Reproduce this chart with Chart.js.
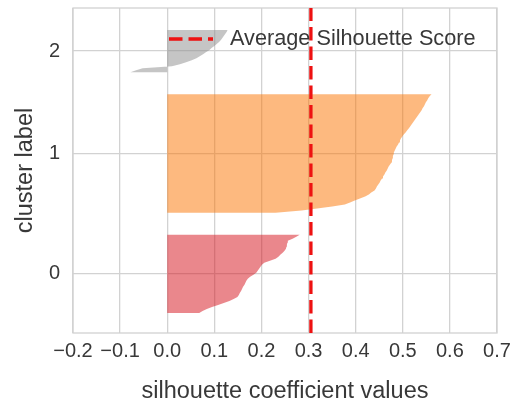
<!DOCTYPE html>
<html>
<head>
<meta charset="utf-8">
<script src="https://cdn.jsdelivr.net/npm/chart.js@4/dist/chart.umd.min.js"></script>
<style>
  html, body { margin: 0; padding: 0; background: #ffffff; }
  #wrap { width: 514px; height: 403px; }
</style>
</head>
<body>
<div id="wrap"><canvas id="chart" width="514" height="403"></canvas></div>
<script>
// Silhouette coefficients per cluster, sorted ascending (bottom to top of each band)
const clusterLabels = ['0', '1', '2'];

const silhouette0 = [
  0.068, 0.075, 0.084, 0.095, 0.108, 0.120, 0.132, 0.141, 0.149, 0.152,
  0.154, 0.157, 0.159, 0.161, 0.164, 0.166, 0.168, 0.171, 0.176, 0.183,
  0.189, 0.192, 0.195, 0.198, 0.201, 0.206, 0.218, 0.230, 0.236, 0.240,
  0.245, 0.249, 0.252, 0.253, 0.254, 0.255, 0.256, 0.266, 0.274, 0.281
];

const silhouette1 = [
  0.230, 0.285, 0.318, 0.350, 0.377, 0.388, 0.398, 0.409, 0.420, 0.428,
  0.433, 0.440, 0.443, 0.445, 0.448, 0.451, 0.453, 0.456, 0.458, 0.461,
  0.463, 0.466, 0.468, 0.470, 0.473, 0.476, 0.477, 0.478, 0.479, 0.480,
  0.481, 0.483, 0.485, 0.487, 0.490, 0.492, 0.494, 0.496, 0.499, 0.502,
  0.506, 0.509, 0.513, 0.516, 0.519, 0.522, 0.525, 0.528, 0.531, 0.534,
  0.537, 0.540, 0.542, 0.545, 0.547, 0.549, 0.552, 0.554, 0.557, 0.561
];

const silhouette2 = [
  -0.078, -0.066, -0.052, 0.010, 0.027, 0.040, 0.052, 0.062, 0.069, 0.076,
  0.082, 0.089, 0.094, 0.100, 0.105, 0.110, 0.114, 0.117, 0.120, 0.123,
  0.126, 0.128
];

const averageScore = 0.305;
const xTickValues = [-0.2, -0.1, 0.0, 0.1, 0.2, 0.3, 0.4, 0.5, 0.6, 0.7];

// Styling
const clusterFills = ['rgba(214,16,26,0.5)', 'rgba(251,115,0,0.5)', 'rgba(140,140,140,0.5)'];
const gridColor = '#d2d2d2';
const textColor = '#383838';
const fontFamily = '"Liberation Sans", Arial, Helvetica, sans-serif';
const bandGap = 10;

// Stack the bands vertically, leaving a gap between clusters
const clusterValues = [silhouette0, silhouette1, silhouette2];
const bandCenters = [];
const bandDatasets = [];
let yLower = bandGap;
clusterValues.forEach((vals, c) => {
  const yTop = yLower + vals.length - 1;
  const pts = [{ x: 0, y: yLower }];
  vals.forEach((v, i) => pts.push({ x: v, y: yLower + i }));
  pts.push({ x: 0, y: yTop });
  bandCenters.push((yLower + yTop) / 2);
  bandDatasets.push({
    label: 'cluster ' + clusterLabels[c],
    data: pts,
    showLine: true,
    fill: 'shape',
    backgroundColor: clusterFills[c],
    borderWidth: 0,
    borderColor: 'rgba(0,0,0,0)',
    pointRadius: 0,
    tension: 0,
    order: 2
  });
  yLower += vals.length + bandGap;
});
const sampleCount = clusterValues.reduce((s, v) => s + v.length, 0);
const yMax = sampleCount + (clusterValues.length + 1) * bandGap;

const averageDataset = {
  label: 'Average Silhouette Score',
  data: [{ x: averageScore, y: 0 }, { x: averageScore, y: yMax }],
  showLine: true,
  fill: false,
  borderColor: '#ee1111',
  borderWidth: 3.3,
  borderDash: [13.5, 6],
  pointRadius: 0,
  order: 0
};

// Full rectangular frame around the plotting area
const framePlugin = {
  id: 'frame',
  beforeDatasetsDraw(chart) {
    const { ctx, chartArea: a } = chart;
    ctx.save();
    ctx.strokeStyle = gridColor;
    ctx.lineWidth = 1.3;
    ctx.strokeRect(a.left, a.top, a.right - a.left, a.bottom - a.top);
    ctx.restore();
  }
};

// Legend entry for the average line, placed inside the plot near the top
const lineLegendPlugin = {
  id: 'lineLegend',
  afterDatasetsDraw(chart) {
    const ds = chart.data.datasets.find(d => d.borderDash);
    const { ctx, chartArea: a } = chart;
    const x0 = a.left + 96, y0 = a.top + 31;
    ctx.save();
    ctx.strokeStyle = ds.borderColor;
    ctx.lineWidth = ds.borderWidth;
    ctx.setLineDash(ds.borderDash);
    ctx.beginPath();
    ctx.moveTo(x0, y0);
    ctx.lineTo(x0 + 44, y0);
    ctx.stroke();
    ctx.setLineDash([]);
    ctx.fillStyle = textColor;
    ctx.font = '21.7px ' + fontFamily;
    ctx.textBaseline = 'middle';
    ctx.textAlign = 'left';
    ctx.fillText(ds.label, x0 + 61, y0);
    ctx.restore();
  }
};

const fmt = v => {
  const s = Number(v).toFixed(1);
  return s.replace('-', '\u2212');
};

new Chart(document.getElementById('chart'), {
  type: 'scatter',
  data: { datasets: [averageDataset, ...bandDatasets] },
  options: {
    responsive: false,
    animation: false,
    devicePixelRatio: 1,
    layout: { padding: { left: 0, top: 8, right: 17, bottom: 0 } },
    plugins: {
      legend: { display: false },
      tooltip: { enabled: false }
    },
    scales: {
      x: {
        type: 'linear',
        min: xTickValues[0],
        max: xTickValues[xTickValues.length - 1],
        afterBuildTicks: s => { s.ticks = xTickValues.map(v => ({ value: v })); },
        afterFit: s => { s.height = 70; s.paddingLeft = 0; s.paddingRight = 0; },
        grid: { color: gridColor, lineWidth: 1.3, drawTicks: false },
        border: { display: false },
        ticks: {
          color: textColor,
          font: { family: fontFamily, size: 20 },
          padding: 6,
          maxRotation: 0,
          autoSkip: false,
          callback: v => fmt(v)
        },
        title: {
          display: true,
          text: 'silhouette coefficient values',
          color: textColor,
          font: { family: fontFamily, size: 23.5, lineHeight: 1 },
          padding: { top: 0, bottom: 0 }
        }
      },
      y: {
        type: 'linear',
        min: 0,
        max: yMax,
        afterBuildTicks: s => { s.ticks = bandCenters.map(v => ({ value: v })); },
        afterFit: s => { s.width = 73; s.paddingTop = 0; s.paddingBottom = 0; },
        grid: { color: gridColor, lineWidth: 1.3, drawTicks: false },
        border: { display: false },
        ticks: {
          color: textColor,
          font: { family: fontFamily, size: 20 },
          padding: 13,
          autoSkip: false,
          callback: (v, i) => clusterLabels[i]
        },
        title: {
          display: true,
          text: 'cluster label',
          color: textColor,
          font: { family: fontFamily, size: 23.5 },
          padding: { top: 11, bottom: 0 }
        }
      }
    }
  },
  plugins: [framePlugin, lineLegendPlugin]
});
</script>
</body>
</html>
